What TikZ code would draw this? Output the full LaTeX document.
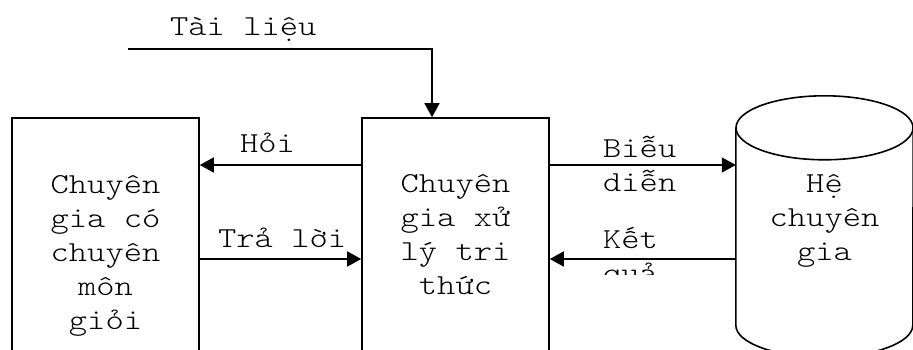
\documentclass[tikz,border=0pt]{standalone}
\usepackage{fontspec}
\newfontfamily\typewriter[FakeStretch=1.2]{Latin Modern Mono Light}
\usetikzlibrary{arrows.meta}
\begin{document}
\begin{tikzpicture}[x=1pt,y=-1pt,
  every node/.style={font=\typewriter\fontsize{29}{34}\selectfont},
  block/.style={draw, line width=1.6pt, minimum width=187pt, minimum height=262pt, inner sep=0pt},
  wire/.style={line width=1.6pt},
  arr/.style={wire, -{Triangle[length=14pt,width=15pt]}},
  lbl/.style={inner sep=0pt, anchor=base west, align=left},
  body/.style={inner sep=0pt, anchor=base, align=center}]
\useasboundingbox (0,0) rectangle (913,350);
\clip (0,0) rectangle (913,350);

% the three actors
\node[block] (expert) at (105.5,249) {};
\node[block] (engineer) at (455.5,249) {};
\node[inner sep=0pt, minimum width=177pt, minimum height=197pt] (db) at (824.5,226.5) {};

% database cylinder
\draw[wire] (db.north west) -- (db.south west)
  arc[start angle=180, end angle=360, x radius=88.5pt, y radius=32pt] -- (db.north east);
\draw[wire] (db.north) ellipse[x radius=88.5pt, y radius=32pt];

% texts inside the shapes (anchored on the baseline of their last line)
\node[body] (exptxt) at (105.5,329) {Chuyên\\gia có\\chuyên\\môn\\giỏi};
\node[body] (engtxt) at (455.5,294) {Chuyên\\gia xử\\lý tri\\thức};
\node[body] (dbtxt) at (824.5,260) {Hệ\\chuyên\\gia};

% rows of the horizontal connectors
\coordinate (rowA) at (0,165);
\coordinate (rowB) at (0,259);
\coordinate (src) at (128,49);

% documents feeding the knowledge engineer
\node[lbl] (doclbl) at (170,36) {Tài liệu};
\draw[arr] (src) -| ([xshift=-23.5pt]engineer.north);

% question / answer
\draw[arr] (engineer.west |- rowA) -- (expert.east |- rowA);
\node[lbl] (asklbl) at (240,153) {Hỏi};
\draw[arr] (expert.east |- rowB) -- (engineer.west |- rowB);
\node[lbl] (anslbl) at (218,247) {Trả lời};

% representation / result
\draw[arr] (engineer.east |- rowA) -- (db.west |- rowA);
\node[lbl] (replbl) at (603,191) {Biễu\\diễn};
\draw[arr] (db.west |- rowB) -- (engineer.east |- rowB);
\begin{scope}
  \clip (590,200) rectangle (720,274);
  \node[lbl] (reslbl) at (603,282) {Kết\\quả};
\end{scope}
\end{tikzpicture}
\end{document}
